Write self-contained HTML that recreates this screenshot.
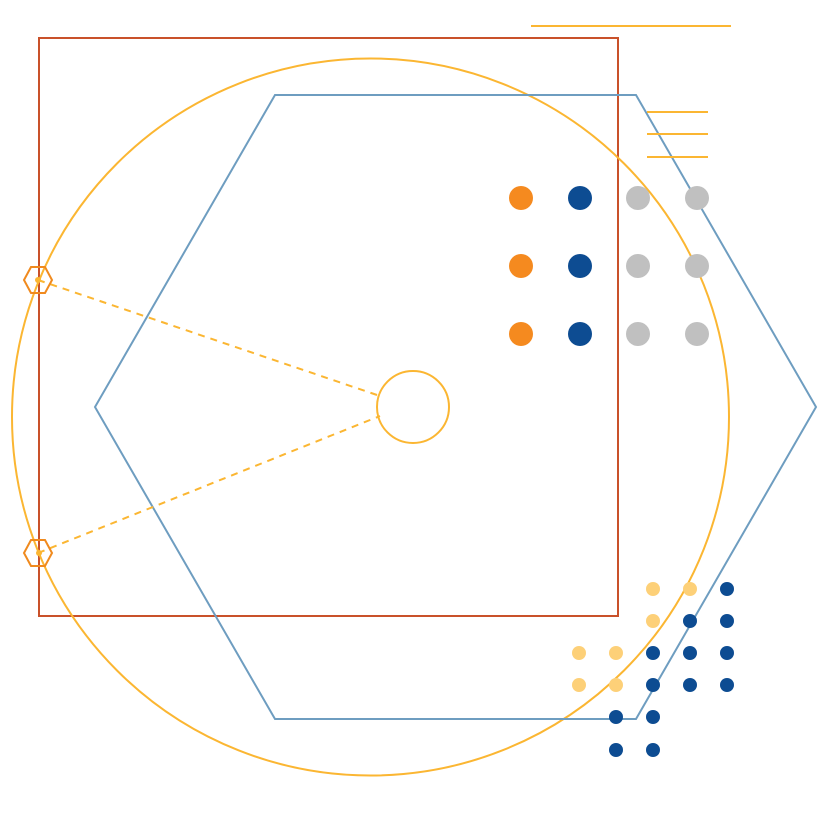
<!DOCTYPE html>
<html><head><style>html,body{margin:0;padding:0;background:#fff}</style></head>
<body>
<svg width="823" height="823" viewBox="0 0 823 823" xmlns="http://www.w3.org/2000/svg">
<rect x="39" y="38" width="579" height="578" fill="none" stroke="#c9512a" stroke-width="2"/>
<circle cx="370.5" cy="417" r="358.5" fill="none" stroke="#fbb632" stroke-width="2"/>
<polygon points="275,95 636,95 816,407 636,719 275,719 95,407" fill="none" stroke="#6e9dc0" stroke-width="2"/>
<circle cx="413" cy="407" r="36" fill="none" stroke="#fbb632" stroke-width="2"/>
<g stroke="#fbb632" stroke-width="2" stroke-dasharray="7,6">
<line x1="38" y1="280" x2="380" y2="396"/>
<line x1="38" y1="553" x2="380" y2="416"/>
</g>
<g stroke="#fbb632" stroke-width="2">
<line x1="531" y1="26" x2="731" y2="26"/>
<line x1="647" y1="112" x2="708" y2="112"/>
<line x1="647" y1="134" x2="708" y2="134"/>
<line x1="647" y1="157" x2="708" y2="157"/>
</g>
<g fill="none" stroke="#f08a1e" stroke-width="2">
<polygon points="24,280 31,267 45,267 52,280 45,293 31,293"/>
<polygon points="24,553 31,540 45,540 52,553 45,566 31,566"/>
</g>
<circle cx="38" cy="280" r="3" fill="#fbb632"/>
<circle cx="39" cy="553" r="3" fill="#fbb632"/>
<g>
<circle cx="521" cy="198" r="12" fill="#f58a1f"/><circle cx="580" cy="198" r="12" fill="#0d4c92"/><circle cx="638" cy="198" r="12" fill="#c0c0c0"/><circle cx="697" cy="198" r="12" fill="#c0c0c0"/>
<circle cx="521" cy="266" r="12" fill="#f58a1f"/><circle cx="580" cy="266" r="12" fill="#0d4c92"/><circle cx="638" cy="266" r="12" fill="#c0c0c0"/><circle cx="697" cy="266" r="12" fill="#c0c0c0"/>
<circle cx="521" cy="334" r="12" fill="#f58a1f"/><circle cx="580" cy="334" r="12" fill="#0d4c92"/><circle cx="638" cy="334" r="12" fill="#c0c0c0"/><circle cx="697" cy="334" r="12" fill="#c0c0c0"/>
</g>
<g>
<circle cx="653" cy="589" r="7" fill="#fdd078"/><circle cx="690" cy="589" r="7" fill="#fdd078"/><circle cx="727" cy="589" r="7" fill="#0d4c92"/>
<circle cx="653" cy="621" r="7" fill="#fdd078"/><circle cx="690" cy="621" r="7" fill="#0d4c92"/><circle cx="727" cy="621" r="7" fill="#0d4c92"/>
<circle cx="579" cy="653" r="7" fill="#fdd078"/><circle cx="616" cy="653" r="7" fill="#fdd078"/><circle cx="653" cy="653" r="7" fill="#0d4c92"/><circle cx="690" cy="653" r="7" fill="#0d4c92"/><circle cx="727" cy="653" r="7" fill="#0d4c92"/>
<circle cx="579" cy="685" r="7" fill="#fdd078"/><circle cx="616" cy="685" r="7" fill="#fdd078"/><circle cx="653" cy="685" r="7" fill="#0d4c92"/><circle cx="690" cy="685" r="7" fill="#0d4c92"/><circle cx="727" cy="685" r="7" fill="#0d4c92"/>
<circle cx="616" cy="717" r="7" fill="#0d4c92"/><circle cx="653" cy="717" r="7" fill="#0d4c92"/>
<circle cx="616" cy="750" r="7" fill="#0d4c92"/><circle cx="653" cy="750" r="7" fill="#0d4c92"/>
</g>
</svg>
</body></html>
